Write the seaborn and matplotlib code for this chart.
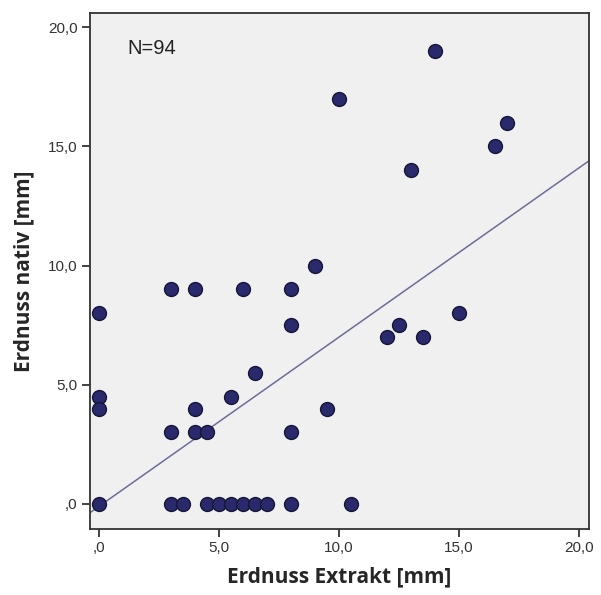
import numpy as np
import pandas as pd
import matplotlib
matplotlib.use("Agg")
import matplotlib.pyplot as plt
import seaborn as sns

# Data (overlapping cases drawn once)
extrakt = [0, 0, 0, 0,
           3, 4, 6, 8,
           8, 6.5, 5.5, 4,
           3, 4, 4.5, 8,
           3, 3.5, 4.5, 5, 5.5, 6, 6.5, 7, 8, 10.5,
           9, 10, 14, 13, 16.5, 17,
           9.5, 12, 12.5, 13.5, 15]
nativ = [8, 4.5, 4, 0,
         9, 9, 9, 9,
         7.5, 5.5, 4.5, 4,
         3, 3, 3, 3,
         0, 0, 0, 0, 0, 0, 0, 0, 0, 0,
         10, 17, 19, 14, 15, 16,
         4, 7, 7.5, 7, 8]

# Regression line (fit on all 94 cases)
fit_intercept = -0.1
fit_slope = 0.71

x_ticks = [0, 5, 10, 15, 20]
y_ticks = [0, 5, 10, 15, 20]
tick_labels = [",0", "5,0", "10,0", "15,0", "20,0"]

df = pd.DataFrame({"extrakt": extrakt, "nativ": nativ})

sns.set_theme(style="white")
plt.rcParams["font.family"] = ["Liberation Sans", "DejaVu Sans"]

fig = plt.figure(figsize=(6.01, 5.95), dpi=100)
ax = fig.add_axes([90 / 601, 66 / 595, 499 / 601, 516 / 595])
ax.set_facecolor("#f0f0f0")

sns.scatterplot(data=df, x="extrakt", y="nativ", ax=ax, s=100,
                color="#29296b", edgecolor="#161638", linewidth=1.0, zorder=3)

ax.axline((0, fit_intercept), slope=fit_slope, color="#6c6c98", lw=1.1, zorder=2)

ax.set_xlim(-0.375, 20.42)
ax.set_ylim(-1.05, 20.6)
ax.set_xticks(x_ticks)
ax.set_xticklabels(tick_labels)
ax.set_yticks(y_ticks)
ax.set_yticklabels(tick_labels)
ax.tick_params(direction="out", length=6, width=1.2, color="#222222",
               labelsize=11, labelcolor="#333333", pad=3)
ax.tick_params(axis="x", bottom=True)
ax.tick_params(axis="y", left=True)
for sp in ax.spines.values():
    sp.set_color("#333333")
    sp.set_linewidth(1.3)

ax.set_xlabel("Erdnuss Extrakt [mm]", fontsize=15, fontweight="bold",
              family=["Open Sans", "DejaVu Sans"], labelpad=8)
ax.set_ylabel("Erdnuss nativ [mm]", fontsize=15, fontweight="bold",
              family=["Open Sans", "DejaVu Sans"], labelpad=10)

ax.text(1.2, 19.1, "N=94", fontsize=14.5, color="#222222", va="center", ha="left")

fig.savefig("out.png", dpi=100)
